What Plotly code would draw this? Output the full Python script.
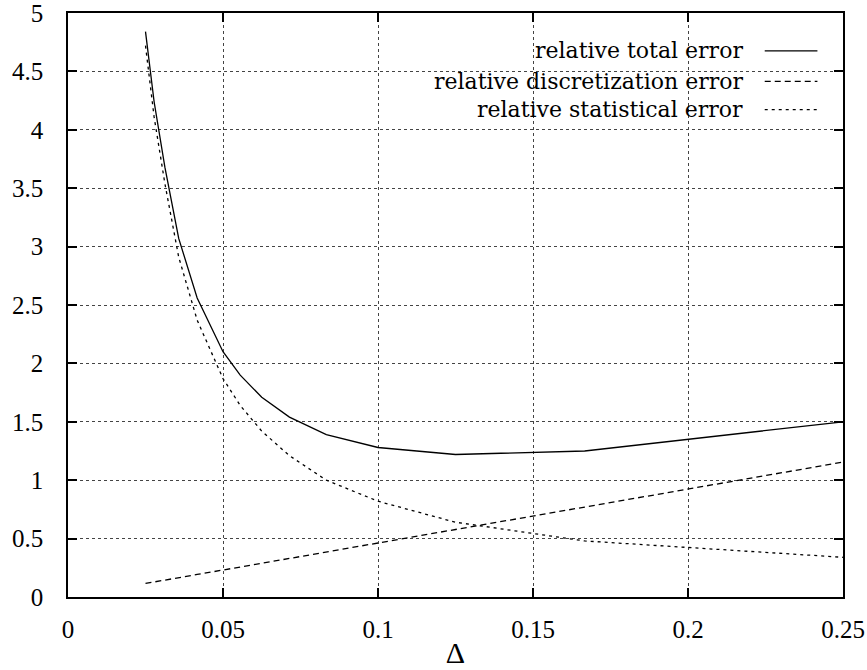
import plotly.graph_objects as go

# Data
delta = [1/40, 1/36, 1/32, 1/28, 1/24, 1/20, 1/18, 1/16, 1/14, 1/12, 1/10, 1/8, 1/6, 1/4]
total_err = [4.84, 4.24, 3.68, 3.07, 2.56, 2.10, 1.90, 1.71, 1.54, 1.39, 1.28, 1.22, 1.25, 1.50]
disc_err = [0.116, 0.128, 0.144, 0.165, 0.193, 0.231, 0.257, 0.289, 0.330, 0.385, 0.462, 0.578, 0.770, 1.155]
stat_err = [4.72, 4.11, 3.54, 2.91, 2.37, 1.87, 1.64, 1.42, 1.21, 1.00, 0.82, 0.64, 0.48, 0.34]

series_names = ["relative total error", "relative discretization error", "relative statistical error"]
series_dash = ["solid", "6px,4px", "3px,4px"]

x_ticks = [0, 0.05, 0.1, 0.15, 0.2, 0.25]
x_tick_text = ["0", "0.05", "0.1", "0.15", "0.2", "0.25"]
y_ticks = [0, 0.5, 1, 1.5, 2, 2.5, 3, 3.5, 4, 4.5, 5]
y_tick_text = ["0", "0.5", "1", "1.5", "2", "2.5", "3", "3.5", "4", "4.5", "5"]

TICK_FONT = "Liberation Serif, Times New Roman, serif"
LEG_FONT = "DejaVu Serif, Liberation Serif, serif"

fig = go.Figure()
for name, ys, dash in zip(series_names, [total_err, disc_err, stat_err], series_dash):
    fig.add_trace(go.Scatter(x=delta, y=ys, mode="lines", name=name,
                             line=dict(color="black", width=1.3, dash=dash),
                             showlegend=False))

# Legend drawn gnuplot-style: text right-aligned, sample line on the right
leg_y = [0.9350, 0.8829, 0.8344]
for name, dash, yy in zip(series_names, series_dash, leg_y):
    fig.add_annotation(x=0.873, y=yy, xref="paper", yref="paper", text=name,
                       showarrow=False, xanchor="right", yanchor="middle",
                       font=dict(family=LEG_FONT, size=22, color="black"))
    fig.add_shape(type="line", xref="paper", yref="paper", x0=0.899, x1=0.967,
                  y0=yy, y1=yy, line=dict(color="black", width=1.3, dash=dash))

axis_common = dict(showline=True, linecolor="black", linewidth=1.5, mirror="ticks",
                   ticks="inside", ticklen=9, tickcolor="black", tickwidth=1.5,
                   showgrid=True, gridcolor="#444", griddash="dot", gridwidth=1,
                   zeroline=False, automargin=False, ticklabeloverflow="allow",
                   tickfont=dict(family=TICK_FONT, size=25, color="black"))

fig.update_xaxes(range=[0, 0.25], tickvals=x_ticks, ticktext=x_tick_text,
                 title=dict(text="Δ", font=dict(family=TICK_FONT, size=30, color="black"), standoff=0),
                 ticklabelstandoff=9, **axis_common)
fig.update_yaxes(range=[0, 5], tickvals=y_ticks, ticktext=y_tick_text,
                 ticklabelstandoff=18, **axis_common)

fig.update_layout(width=867, height=670, plot_bgcolor="white", paper_bgcolor="white",
                  margin=dict(l=68, r=24, t=13, b=73),
                  font=dict(family=TICK_FONT, color="black"))

post = (
    "document.body.style.margin='0';"
    "var gd=document.getElementById('{plot_id}');"
    "['Liberation Serif','DejaVu Serif'].forEach(function(f){"
    "var s=document.createElement('span');s.style.fontFamily=f;s.textContent='0.5 x';"
    "document.body.appendChild(s);s.offsetWidth;s.remove();});"
    "Plotly.redraw(gd);"
)

fig.write_html("out.html", post_script=post, config={"displayModeBar": False})
